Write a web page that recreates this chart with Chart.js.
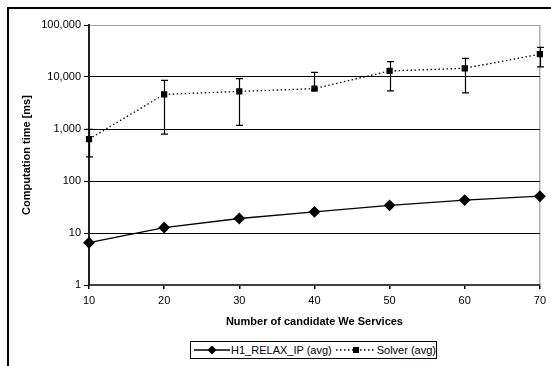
<!DOCTYPE html>
<html>
<head>
<meta charset="utf-8">
<script src="https://cdn.jsdelivr.net/npm/chart.js@4/dist/chart.umd.min.js"></script>
<style>
  html, body { margin: 0; padding: 0; background: #fff; }
  #wrap { position: relative; width: 551px; height: 366px; overflow: hidden; }
  #c { position: absolute; left: 0; top: 0; }
  #legend { position: absolute; left: 190px; top: 341px; width: 245px; height: 16px;
    border: 1px solid #000; font-family: "Liberation Sans", Arial, sans-serif; font-size: 11px;
    display: flex; align-items: center; white-space: nowrap; color: #000; background: #fff; }
  #legend svg { display: block; }
</style>
</head>
<body>
<div id="wrap">
  <canvas id="c" width="551" height="366"></canvas>
  <div id="legend">
    <svg width="38" height="14" style="margin-left:3px"><line x1="0" y1="7" x2="36" y2="7" stroke="#000" stroke-width="1.3"/><polygon points="18,2.5 22.5,7 18,11.5 13.5,7" fill="#000"/></svg>
    <span>H1_RELAX_IP (avg)</span>
    <svg width="42" height="14" style="margin-left:4px"><line x1="0" y1="7" x2="40" y2="7" stroke="#000" stroke-width="1.3" stroke-dasharray="1.5,2.5"/><rect x="17" y="4" width="6" height="6" fill="#000"/></svg>
    <span>Solver (avg)</span>
  </div>
</div>
<script>
const categories = [10, 20, 30, 40, 50, 60, 70];
const h1RelaxIp = [6.5, 12.7, 19, 25.5, 34, 43, 51];
const solverAvg = [640, 4630, 5280, 5970, 13060, 14700, 27500];
const solverLow = [290, 800, 1175, 5600, 5430, 4970, 15600];
const solverHigh = [980, 8630, 9270, 12300, 19800, 22900, 37000];
const yTickValues = [1, 10, 100, 1000, 10000, 100000];
const xTitle = 'Number of candidate We Services';
const yTitle = 'Computation time [ms]';

const FONT = '"Liberation Sans", Arial, sans-serif';

const errorBars = {
  id: 'errorBars',
  afterDatasetsDraw(chart) {
    const ctx = chart.ctx;
    const xs = chart.scales.x, ys = chart.scales.y;
    ctx.save();
    ctx.strokeStyle = '#000';
    ctx.lineWidth = 1.2;
    for (let i = 0; i < categories.length; i++) {
      const x = Math.round(xs.getPixelForValue(i)) + 0.5;
      const yl = ys.getPixelForValue(solverLow[i]);
      const yh = ys.getPixelForValue(solverHigh[i]);
      ctx.beginPath();
      ctx.moveTo(x, yl); ctx.lineTo(x, yh);
      ctx.moveTo(x - 3.5, yl); ctx.lineTo(x + 3.5, yl);
      ctx.moveTo(x - 3.5, yh); ctx.lineTo(x + 3.5, yh);
      ctx.stroke();
    }
    ctx.restore();
  }
};

const frame = {
  id: 'frame',
  beforeDraw(chart) {
    const ctx = chart.ctx;
    ctx.save();
    ctx.fillStyle = '#fff';
    ctx.fillRect(0, 0, chart.width, chart.height);
    ctx.strokeStyle = '#000';
    ctx.lineWidth = 2;
    ctx.strokeRect(8, 8, 700, 500);
    ctx.restore();
  }
};

new Chart(document.getElementById('c'), {
  type: 'line',
  data: {
    labels: categories,
    datasets: [
      {
        label: 'H1_RELAX_IP (avg)',
        data: h1RelaxIp,
        borderColor: '#000',
        backgroundColor: '#000',
        borderWidth: 1.3,
        pointStyle: 'rectRot',
        pointRadius: 5,
        pointHoverRadius: 5,
        tension: 0
      },
      {
        label: 'Solver (avg)',
        data: solverAvg,
        borderColor: '#000',
        backgroundColor: '#000',
        borderWidth: 1.3,
        borderDash: [1.5, 2.5],
        pointStyle: 'rect',
        pointRadius: 3.5,
        pointHoverRadius: 3.5,
        tension: 0
      }
    ]
  },
  options: {
    responsive: false,
    animation: false,
    devicePixelRatio: 1,
    layout: { padding: { left: 0, right: 11, top: 25, bottom: 33 } },
    plugins: { legend: { display: false }, tooltip: { enabled: false } },
    scales: {
      x: {
        type: 'category',
        offset: false,
        afterFit(s) { s.height = 48; },
        grid: {
          drawOnChartArea: true,
          color: (c) => c.index === categories.length - 1 ? '#b0b0b0' : 'rgba(0,0,0,0)',
          tickColor: '#000',
          tickLength: 4,
          lineWidth: 1.5
        },
        border: { color: '#404040', width: 2 },
        ticks: { color: '#000', font: { family: FONT, size: 11 }, padding: 5, maxRotation: 0 },
        title: { display: true, text: xTitle, color: '#000', font: { family: FONT, size: 11, weight: 'bold' }, padding: { top: 0, bottom: 4 } }
      },
      y: {
        type: 'logarithmic',
        min: 1,
        max: 100000,
        afterFit(s) { s.width = 89; },
        afterBuildTicks(s) { s.ticks = yTickValues.map(v => ({ value: v, major: true })); },
        grid: {
          color: (c) => c.tick && c.tick.value === 100000 ? '#a0a0a0' : '#000',
          tickColor: '#000',
          tickLength: 5,
          lineWidth: 1
        },
        border: { color: '#202020', width: 2 },
        ticks: {
          color: '#000',
          font: { family: FONT, size: 11 },
          padding: 3,
          callback: (v) => Number(v).toLocaleString('en-US')
        },
        title: { display: true, text: yTitle, color: '#000', font: { family: FONT, size: 11, weight: 'bold' }, padding: { top: 20, bottom: 0 } }
      }
    }
  },
  plugins: [frame, errorBars]
});
</script>
</body>
</html>
